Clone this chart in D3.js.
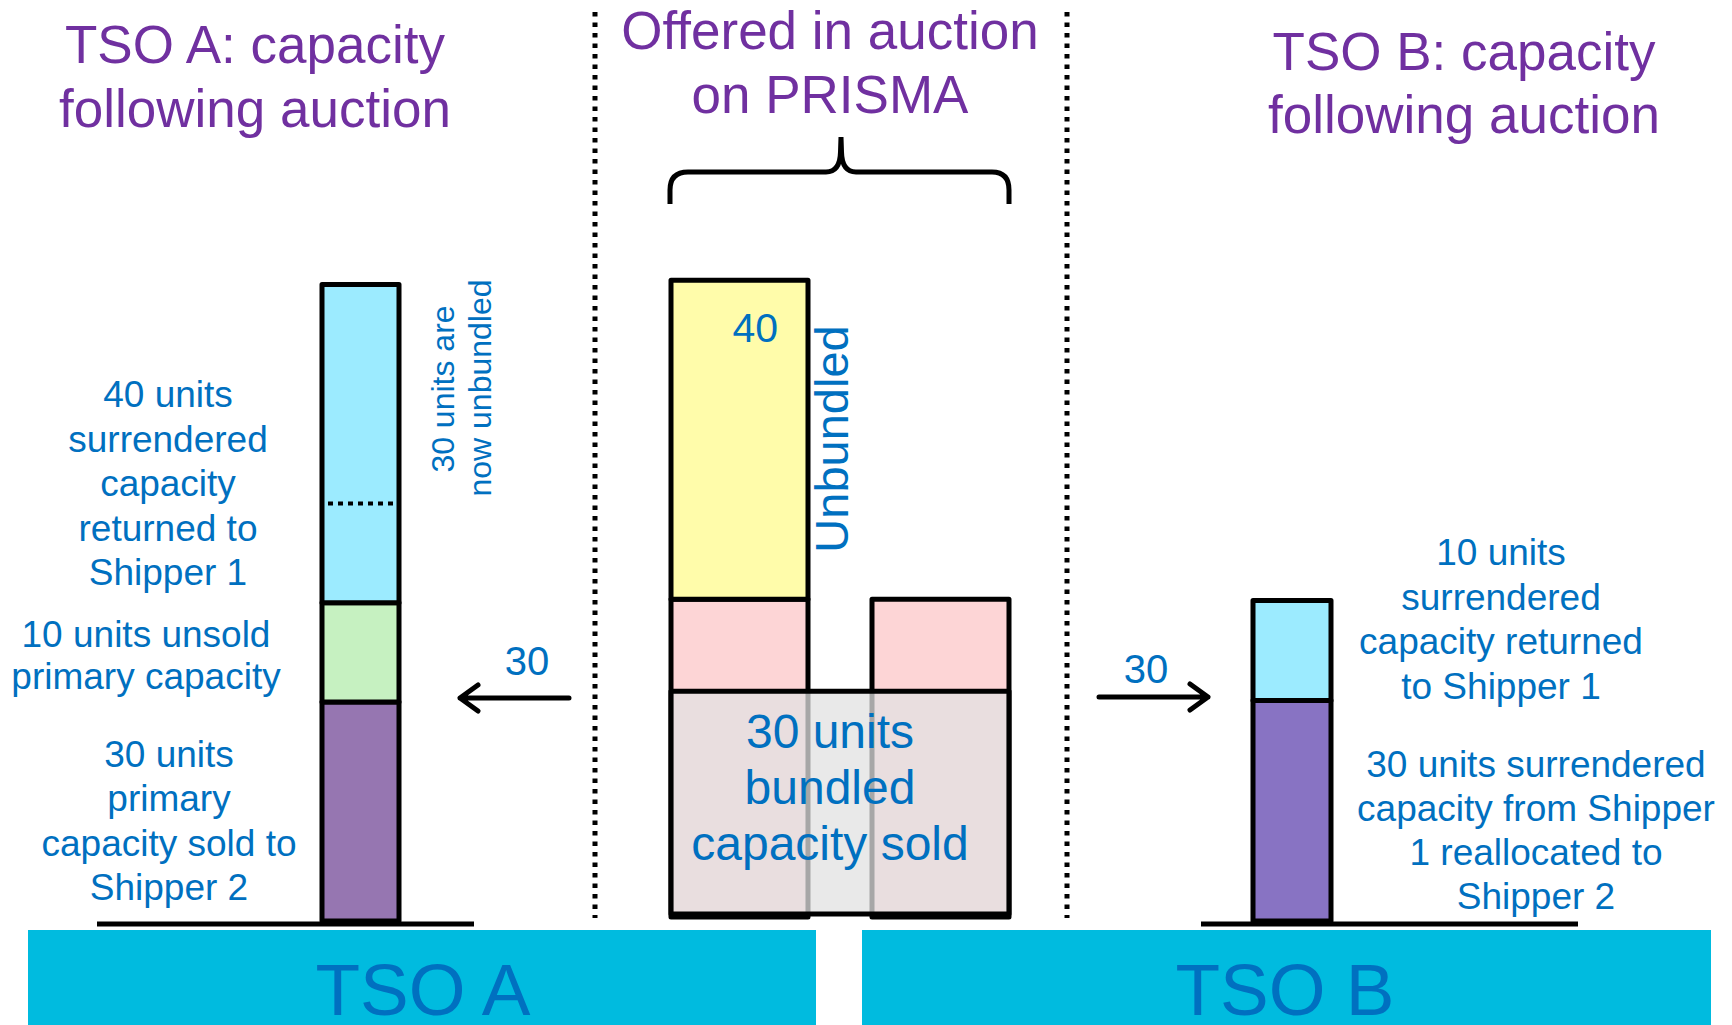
<!DOCTYPE html>
<html lang="en">
<head>
    <meta charset="UTF-8">
    <title>Capacity following auction</title>
    <script src="https://d3js.org/d3.v7.min.js"></script>
    <style>
        body { margin: 0; background: #fff; }
        svg { display: block; }
        text { font-family: "Liberation Sans", Arial, sans-serif; }
        .title { fill: #7030A0; font-size: 53px; }
        .label { fill: #0070C0; font-size: 37px; }
        .bar { stroke: #000; stroke-width: 5; stroke-linejoin: round; }
        .dots { stroke: #000; stroke-width: 5; stroke-dasharray: 4.5 6; fill: none; }
    </style>
</head>
<body>
<svg width="1732" height="1025"></svg>
<script>
    // columns of the diagram
    const columns = ["TSO A", "Auction left", "Auction right", "TSO B"];

    // stacked blocks, bottom to top, in units as drawn in the picture
    const tsoALayers = ["Sold to Shipper 2", "Unsold primary", "Surrendered"];
    const tsoAValues = [30, 13.6, 43.6];
    const tsoAUnbundled = 30;          // top part of the surrendered block (dotted line)
    const auctionLeftLayers = ["Bundled sold", "Bundled offered", "Unbundled"];
    const auctionLeftValues = [30.5, 12.6, 43.7];
    const auctionRightLayers = ["Bundled sold", "Bundled offered"];
    const auctionRightValues = [30.5, 12.6];
    const tsoBLayers = ["Reallocated to Shipper 2", "Returned to Shipper 1"];
    const tsoBValues = [30.2, 13.7];
    const flowValues = [30, 30];      // TSO A <- auction -> TSO B
    const unbundledValue = 40;

    const colors = {
        "Sold to Shipper 2": "#9676B1",
        "Unsold primary": "#C6F1C1",
        "Surrendered": "#9CEBFF",
        "Bundled sold": "rgba(225,225,225,0.74)",
        "Bundled offered": "#FDD5D6",
        "Unbundled": "#FFFCAA",
        "Reallocated to Shipper 2": "#8873C3",
        "Returned to Shipper 1": "#9CEBFF"
    };

    const svg = d3.select("svg");

    const x = d3.scaleOrdinal().domain(columns).range([322, 671, 872, 1253]);
    const w = d3.scaleOrdinal().domain(columns).range([77, 137, 137, 78]);
    // units -> pixels (7.3 px per unit)
    const y = d3.scaleLinear().domain([0, 100]).range([921, 191]);
    const yMid = d3.scaleLinear().domain([0, 100]).range([914, 184]);

    function stack(values, layers) {
        let acc = 0;
        return values.map((v, i) => {
            const d = {layer: layers[i], y0: acc, y1: acc + v};
            acc += v;
            return d;
        });
    }

    // bottom cyan boxes
    svg.append("rect").attr("x", 28).attr("y", 930).attr("width", 788).attr("height", 100).attr("fill", "#00BBDF");
    svg.append("rect").attr("x", 862).attr("y", 930).attr("width", 849).attr("height", 100).attr("fill", "#00BBDF");
    svg.append("text").attr("x", 423).attr("y", 1015).attr("text-anchor", "middle")
        .style("font-size", "73px").attr("fill", "#0070C0").text("TSO A");
    svg.append("text").attr("x", 1285).attr("y", 1015).attr("text-anchor", "middle")
        .style("font-size", "73px").attr("fill", "#0070C0").text("TSO B");

    // ground lines
    svg.append("line").attr("x1", 97).attr("x2", 474).attr("y1", y(0) + 3).attr("y2", y(0) + 3)
        .attr("stroke", "#000").attr("stroke-width", 5);
    svg.append("line").attr("x1", 1201).attr("x2", 1578).attr("y1", y(0) + 3).attr("y2", y(0) + 3)
        .attr("stroke", "#000").attr("stroke-width", 5);

    // dotted separators
    [595, 1067].forEach(px => {
        svg.append("line").attr("class", "dots").attr("x1", px).attr("x2", px).attr("y1", 12).attr("y2", 918);
    });

    // TSO A bar
    svg.selectAll(".barA").data(stack(tsoAValues, tsoALayers)).enter().append("rect")
        .attr("class", "bar barA")
        .attr("x", x("TSO A")).attr("width", w("TSO A"))
        .attr("y", d => y(d.y1)).attr("height", d => y(d.y0) - y(d.y1))
        .attr("fill", d => colors[d.layer]);
    const yDot = y(d3.sum(tsoAValues) - tsoAUnbundled);
    svg.append("line").attr("x1", x("TSO A") + 6).attr("x2", x("TSO A") + w("TSO A") - 2)
        .attr("y1", yDot).attr("y2", yDot)
        .attr("stroke", "#000").attr("stroke-width", 4).attr("stroke-dasharray", "5 5");

    // auction columns: pink columns reach the base, the bundled block is drawn over both
    const leftStack = stack(auctionLeftValues, auctionLeftLayers);
    const rightStack = stack(auctionRightValues, auctionRightLayers);
    [["Auction left", leftStack], ["Auction right", rightStack]].forEach(([col, st]) => {
        svg.selectAll(".mid" + col.replace(" ", "")).data(st.slice(1)).enter().append("rect")
            .attr("class", "bar")
            .attr("x", x(col)).attr("width", w(col))
            .attr("y", d => yMid(d.y1))
            .attr("height", d => (d.layer === "Bundled offered" ? yMid(0) + 3 : yMid(d.y0)) - yMid(d.y1))
            .attr("fill", d => colors[d.layer]);
    });
    svg.append("rect").attr("class", "bar")
        .attr("x", x("Auction left")).attr("width", x("Auction right") + w("Auction right") - x("Auction left"))
        .attr("y", yMid(leftStack[0].y1)).attr("height", yMid(0) - yMid(leftStack[0].y1))
        .attr("fill", colors["Bundled sold"]);

    // TSO B bar
    svg.selectAll(".barB").data(stack(tsoBValues, tsoBLayers)).enter().append("rect")
        .attr("class", "bar barB")
        .attr("x", x("TSO B")).attr("width", w("TSO B"))
        .attr("y", d => y(d.y1)).attr("height", d => y(d.y0) - y(d.y1))
        .attr("fill", d => colors[d.layer]);

    // brace over the auction block
    svg.append("path")
        .attr("d", "M670,204 L670,190 Q670,172 688,172 L826,172 Q840,172 840.5,152 L841,137 L841.5,152 Q842,172 856,172 L992,172 Q1009,172 1009,190 L1009,204")
        .attr("fill", "none").attr("stroke", "#000").attr("stroke-width", 5);

    // flow arrows
    svg.append("path").attr("d", "M569,698 L460,698 M478,685 L460,698 L478,711")
        .attr("fill", "none").attr("stroke", "#000").attr("stroke-width", 5)
        .attr("stroke-linecap", "round").attr("stroke-linejoin", "round");
    svg.append("path").attr("d", "M1099,697 L1208,697 M1190,684 L1208,697 L1190,710")
        .attr("fill", "none").attr("stroke", "#000").attr("stroke-width", 5)
        .attr("stroke-linecap", "round").attr("stroke-linejoin", "round");
    svg.append("text").attr("class", "label").attr("x", 527).attr("y", 675).attr("text-anchor", "middle")
        .style("font-size", "40px").text(flowValues[0]);
    svg.append("text").attr("class", "label").attr("x", 1146).attr("y", 683).attr("text-anchor", "middle")
        .style("font-size", "40px").text(flowValues[1]);

    // text blocks
    function lines(list, cx, y0, dy, cls, size) {
        list.forEach((t, i) => {
            const el = svg.append("text").attr("class", cls).attr("x", cx).attr("y", y0 + i * dy)
                .attr("text-anchor", "middle").text(t);
            if (size) el.style("font-size", size + "px");
        });
    }

    lines(["TSO A: capacity", "following auction"], 255, 63, 64, "title");
    lines(["Offered in auction", "on PRISMA"], 830, 49, 64, "title");
    lines(["TSO B: capacity", "following auction"], 1464, 70, 63, "title");

    lines(["40 units", "surrendered", "capacity", "returned to", "Shipper 1"], 168, 407, 44.5, "label");
    lines(["10 units unsold", "primary capacity"], 146, 647, 42, "label");
    lines(["30 units", "primary", "capacity sold to", "Shipper 2"], 169, 767, 44.3, "label");

    lines(["10 units", "surrendered", "capacity returned", "to Shipper 1"], 1501, 565, 44.5, "label");
    lines(["30 units surrendered", "capacity from Shipper", "1 reallocated to", "Shipper 2"], 1536, 777, 44, "label");

    lines(["30 units", "bundled", "capacity sold"], 830, 748, 56, "label", 48);

    svg.append("text").attr("class", "label").attr("x", 778).attr("y", 342).attr("text-anchor", "end")
        .style("font-size", "41px").text(unbundledValue);

    // rotated texts
    svg.append("text").attr("class", "label").style("font-size", "47px")
        .attr("transform", "translate(848,439) rotate(-90)").attr("text-anchor", "middle").text("Unbundled");
    svg.append("text").attr("class", "label").style("font-size", "32px")
        .attr("transform", "translate(454,389) rotate(-90)").attr("text-anchor", "middle").text(tsoAUnbundled + " units are");
    svg.append("text").attr("class", "label").style("font-size", "32px")
        .attr("transform", "translate(491,388) rotate(-90)").attr("text-anchor", "middle").text("now unbundled");
</script>
</body>
</html>
